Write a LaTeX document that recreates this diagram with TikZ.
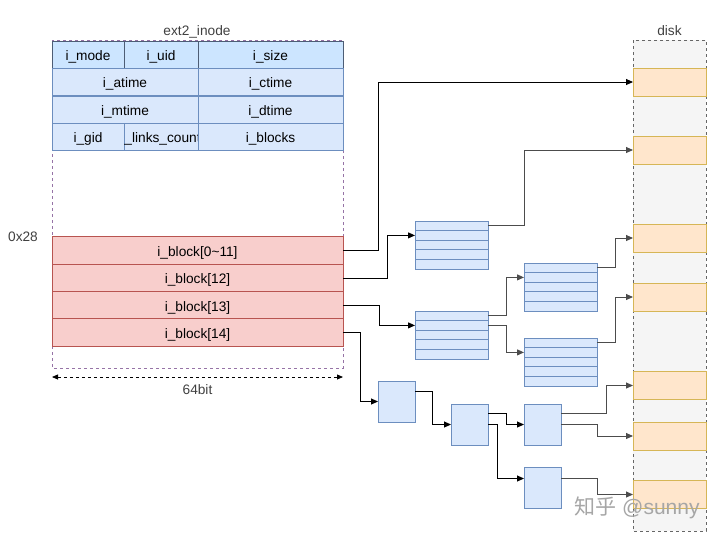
\documentclass[tikz,border=0pt]{standalone}
\usepackage{fontspec}
\setmainfont{Liberation Sans}
\newfontfamily\cjk{Noto Sans CJK SC}
\usetikzlibrary{arrows.meta}
\definecolor{bluefill}{HTML}{DAE8FC}
\definecolor{blueline}{HTML}{6C8EBF}
\definecolor{topfill}{HTML}{CCE5FF}
\definecolor{topline}{HTML}{4D5D75}
\definecolor{redfill}{HTML}{F8CECC}
\definecolor{redline}{HTML}{B85450}
\definecolor{orgfill}{HTML}{FFE6CC}
\definecolor{orgline}{HTML}{D6B656}
\definecolor{diskfill}{HTML}{F5F5F5}
\definecolor{inodeline}{HTML}{9673A6}
\begin{document}
\begin{tikzpicture}[x=1pt,y=-1pt,
  font=\fontsize{13.7pt}{16pt}\selectfont,
  box/.style={draw, inner sep=0pt, outer sep=0pt, line width=0.9pt, text height=11pt, text depth=0pt},
  cell/.style={box, draw=blueline, fill=bluefill, minimum height=27pt},
  topcell/.style={box, draw=topline, fill=topfill, minimum height=27pt},
  blk/.style={box, draw=redline, fill=redfill, minimum width=291pt, minimum height=27.3pt},
  trow/.style={box, draw=blueline, fill=bluefill, minimum width=73pt, minimum height=9.6pt, text height=0pt},
  sq/.style={box, draw=blueline, fill=bluefill, minimum width=37pt, minimum height=41pt},
  dblk/.style={box, draw=orgline, fill=orgfill, minimum width=73pt, minimum height=28pt},
  lbl/.style={text=black!75, text height=11pt, text depth=0pt},
  arr/.style={line width=0.9pt, -{Triangle[length=7pt,width=6pt]}},
  arrg/.style={arr, draw=black!70},
  dim/.style={line width=0.8pt, dash pattern=on 3pt off 3pt, {Triangle[length=6pt,width=5pt]}-{Triangle[length=6pt,width=5pt]}}]
\useasboundingbox (0,0) rectangle (720,542);

% inode and disk frames
\draw[line width=0.9pt, draw=inodeline, dash pattern=on 3pt off 3pt] (52,40) rectangle (343,368);
\draw[line width=0.9pt, draw=black!60, fill=diskfill, dash pattern=on 3pt off 3pt] (633,40) rectangle (706,531);
\node[lbl] (title) at (197,30) {ext2\_inode};
\node[lbl] (disk) at (669.5,30) {disk};
\node[lbl] (off) at (23,236) {0x28};

% ext2_inode fields
\node[topcell, minimum width=72pt] (imode) at (88,54.5) {i\_mode};
\node[topcell, minimum width=74pt] (iuid) at (161,54.5) {i\_uid};
\node[topcell, minimum width=145pt] (isize) at (270.5,54.5) {i\_size};
\node[cell, minimum width=146pt] (iatime) at (125,82) {i\_atime};
\node[cell, minimum width=145pt] (ictime) at (270.5,82) {i\_ctime};
\node[cell, minimum width=146pt] (imtime) at (125,109.5) {i\_mtime};
\node[cell, minimum width=145pt] (idtime) at (270.5,109.5) {i\_dtime};
\node[cell, minimum width=72pt] (igid) at (88,136.5) {i\_gid};
\node[cell, minimum width=74pt] (ilinks) at (161,136.5) {};
\begin{scope}
\clip (124,123) rectangle (198,150);
\node[text height=11pt, text depth=0pt] (ilinkstxt) at (161,136.5) {i\_links\_count};
\end{scope}
\node[cell, minimum width=145pt] (iblocks) at (270.5,136.5) {i\_blocks};

% i_block array
\node[blk] (ib0) at (197.5,250.5) {i\_block[0\textasciitilde11]};
\node[blk] (ib12) at (197.5,278) {i\_block[12]};
\node[blk] (ib13) at (197.5,305.5) {i\_block[13]};
\node[blk] (ib14) at (197.5,332.5) {i\_block[14]};

\coordinate (wl) at (52,377);
\coordinate (wr) at (343,377);
\draw[dim] (wl) -- (wr);
\node[lbl] (width) at (197.5,389) {64bit};

% indirect blocks
\foreach \t/\x/\y in {1/451.5/221, 2/451.5/311, 3/560.5/263, 4/560.5/338}
  \foreach \i in {1,...,5}
    \node[trow] (t\t-\i) at (\x,\y-4.8+9.6*\i) {};
\node[sq] (s1) at (396.5,401.5) {};
\node[sq] (s2) at (469.5,424.5) {};
\node[sq] (s3) at (542.5,424.5) {};
\node[sq] (s4) at (542.5,487.5) {};

% data blocks on disk
\foreach \n/\y in {1/82, 2/150, 3/238, 4/297, 5/385.5, 6/436, 7/494.5}
  \node[dblk] (d\n) at (669.5,\y) {};

% pointers
\draw[arr] (ib0.east) -- ++(35,0) |- (d1.west);
\draw[arr] (ib12.east) -- ++(44,0) |- (t1-2.west);
\draw[arrg] (t1-1.east) -- ++(36,0) |- (d2.west);
\draw[arr] (ib13.east) -- ++(36,0) |- (t2-2.west);
\draw[arrg] (t2-1.east) -- ++(18,0) |- (t3-2.west);
\draw[arrg] (t2-2.east) -- ++(18,0) |- (t4-2.west);
\draw[arrg] (t3-1.east) -- ++(18,0) |- (d3.west);
\draw[arrg] (t4-1.east) -- ++(18,0) |- (d4.west);
\draw[arr] (ib14.east) -- ++(17,0) |- (s1.west);
\draw[arr] ([yshift=10pt]s1.east) -- ++(17,0) |- (s2.west);
\draw[arr] ([yshift=11pt]s2.east) -- ++(18,0) |- (s3.west);
\draw[arr] (s2.east) -- ++(9,0) |- ([yshift=9pt]s4.west);
\draw[arrg] ([yshift=11pt]s3.east) -- ++(45,0) |- (d5.west);
\draw[arrg] (s3.east) -- ++(36,0) |- (d6.west);
\draw[arrg] ([yshift=9pt]s4.east) -- ++(36,0) |- (d7.west);

\node[text=black!35, font=\fontsize{21pt}{24pt}\selectfont] (mark) at (637,508) {{\cjk 知乎} @sunny};
\end{tikzpicture}
\end{document}
